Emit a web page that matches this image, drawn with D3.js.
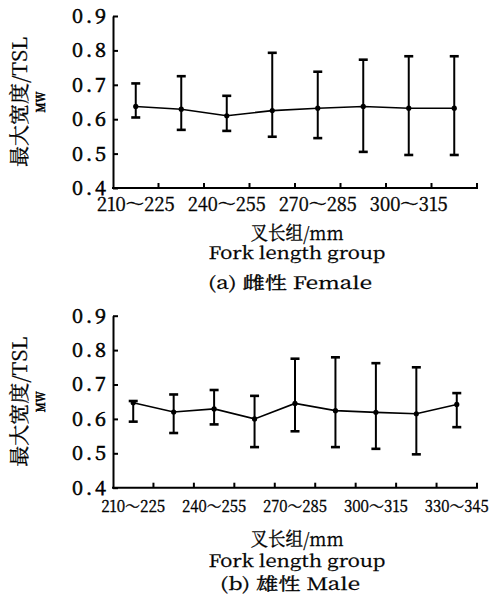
<!DOCTYPE html>
<html>
<head>
<meta charset="utf-8">
<script src="https://cdn.jsdelivr.net/npm/d3@7"></script>
<style>
  body { margin: 0; background: #fff; }
  svg { display: block; }
</style>
</head>
<body>
<script>
// ---- data ----
const groupsA = ["210～225", "225～240", "240～255", "255～270", "270～285", "285～300", "300～315", "315～330"];
const meanA  = [0.637, 0.629, 0.610, 0.625, 0.632, 0.637, 0.632, 0.632];
const upperA = [0.704, 0.725, 0.668, 0.793, 0.738, 0.773, 0.783, 0.783];
const lowerA = [0.605, 0.569, 0.566, 0.549, 0.545, 0.505, 0.496, 0.496];

const groupsB = ["210～225", "225～240", "240～255", "255～270", "270～285", "285～300", "300～315", "315～330", "330～345"];
const meanB  = [0.647, 0.620, 0.629, 0.600, 0.645, 0.624, 0.619, 0.615, 0.642];
const upperB = [0.652, 0.671, 0.684, 0.667, 0.775, 0.779, 0.762, 0.750, 0.675];
const lowerB = [0.592, 0.559, 0.584, 0.518, 0.564, 0.518, 0.513, 0.497, 0.576];

const yTicks = [0.4, 0.5, 0.6, 0.7, 0.8, 0.9];
const yTitle = "最大宽度/TSL";
const yTitle2 = "MW";
const xTitle = "叉长组/mm";
const xTitle2 = "Fork length group";
const captionA = "(a) 雌性 Female";
const captionB = "(b) 雄性 Male";
//////////////////////

const w = 499, h = 605;
const svg = d3.select("body").append("svg")
  .attr("width", w)
  .attr("height", h);

// Song style font, like the printed figure
const song = "'Noto Serif CJK SC', 'Liberation Serif', serif";

// small helper: a thin outline makes the text as dark as the print
function ink(sel, sw) {
  sel.attr("fill", "#000").attr("stroke", "#000").attr("stroke-width", sw);
}

function drawPanel(p) {
  const g = svg.append("g");

  const x = d3.scaleBand().domain(p.groups).range([113, 477]).padding(0);
  const y = d3.scaleLinear().domain([0.4, 0.9]).range([p.bottom, p.bottom - 172]);

  // y axis
  const yAxis = d3.axisLeft(y)
    .tickValues(yTicks)
    .tickFormat(d3.format(".1f"))
    .tickSizeInner(-5)
    .tickSizeOuter(0)
    .tickPadding(7);
  const ya = g.append("g").attr("transform", "translate(113,0)").call(yAxis);
  ya.select(".domain").attr("stroke-width", 2);
  ya.selectAll(".tick line").attr("stroke-width", 2);
  ya.selectAll(".tick text")
    .style("font-family", song)
    .style("font-size", "20px")
    .attr("textLength", 34)
    .attr("lengthAdjust", "spacing")
    .call(ink, 0.6);

  // x axis line
  g.append("line")
    .attr("x1", 112).attr("x2", 478)
    .attr("y1", y(0.4)).attr("y2", y(0.4))
    .attr("stroke", "#000").attr("stroke-width", 2);
  // ticks at band edges, pointing up
  g.selectAll(".xtick").data(p.groups).enter().append("line")
    .attr("x1", d => x(d) + x.bandwidth())
    .attr("x2", d => x(d) + x.bandwidth())
    .attr("y1", y(0.4))
    .attr("y2", y(0.4) - 5)
    .attr("stroke", "#000").attr("stroke-width", 2);
  // labels on every other group
  g.selectAll(".xlab").data(p.groups.filter((d, i) => i % 2 === 0)).enter().append("text")
    .attr("x", d => x(d) + x.bandwidth() / 2)
    .attr("y", y(0.4) + p.labOff)
    .attr("text-anchor", "middle")
    .style("font-family", song)
    .style("font-size", p.labSize + "px")
    .attr("textLength", p.labW)
    .attr("lengthAdjust", "spacingAndGlyphs")
    .call(ink, 0.4)
    .text(d => d);

  const cx = (d, i) => x(p.groups[i]) + x.bandwidth() / 2;

  // mean line
  const line = d3.line()
    .x((d, i) => cx(d, i))
    .y(d => y(d));
  g.append("path")
    .datum(p.mean)
    .attr("d", line)
    .attr("fill", "none")
    .attr("stroke", "#000")
    .attr("stroke-width", 1.6);

  // error bars
  const eb = g.selectAll(".eb").data(p.mean).enter().append("g");
  eb.append("line")
    .attr("x1", cx).attr("x2", cx)
    .attr("y1", (d, i) => y(p.upper[i]))
    .attr("y2", (d, i) => y(p.lower[i]))
    .attr("stroke", "#000").attr("stroke-width", 2);
  eb.append("line")
    .attr("x1", (d, i) => cx(d, i) - 4.5).attr("x2", (d, i) => cx(d, i) + 4.5)
    .attr("y1", (d, i) => y(p.upper[i]))
    .attr("y2", (d, i) => y(p.upper[i]))
    .attr("stroke", "#000").attr("stroke-width", 2.6);
  eb.append("line")
    .attr("x1", (d, i) => cx(d, i) - 4.5).attr("x2", (d, i) => cx(d, i) + 4.5)
    .attr("y1", (d, i) => y(p.lower[i]))
    .attr("y2", (d, i) => y(p.lower[i]))
    .attr("stroke", "#000").attr("stroke-width", 2.6);
  eb.append("circle")
    .attr("cx", cx)
    .attr("cy", d => y(d))
    .attr("r", 2.6)
    .attr("fill", "#000");

  // y title (rotated)
  const ym = y(0.65);
  g.append("text")
    .attr("transform", `translate(27,${ym}) rotate(-90)`)
    .attr("text-anchor", "middle")
    .style("font-family", song)
    .style("font-size", "20px")
    .attr("textLength", 130)
    .attr("lengthAdjust", "spacingAndGlyphs")
    .call(ink, 0.3)
    .text(yTitle);
  g.append("text")
    .attr("transform", `translate(45,${ym}) rotate(-90)`)
    .attr("text-anchor", "middle")
    .style("font-family", song)
    .style("font-weight", "bold")
    .style("font-size", "12px")
    .attr("textLength", 21)
    .attr("lengthAdjust", "spacingAndGlyphs")
    .call(ink, 0.5)
    .text(yTitle2);

  // x titles and caption
  g.append("text")
    .attr("x", 297).attr("y", y(0.4) + p.t1)
    .attr("text-anchor", "middle")
    .style("font-family", song)
    .style("font-size", "19px")
    .attr("textLength", 93)
    .attr("lengthAdjust", "spacingAndGlyphs")
    .call(ink, 0.3)
    .text(xTitle);
  g.append("text")
    .attr("x", 297).attr("y", y(0.4) + p.t2)
    .attr("text-anchor", "middle")
    .style("font-family", song)
    .style("font-size", "17px")
    .attr("textLength", 177)
    .attr("lengthAdjust", "spacingAndGlyphs")
    .call(ink, 0.3)
    .text(xTitle2);
  g.append("text")
    .attr("x", 290).attr("y", y(0.4) + p.t3)
    .attr("text-anchor", "middle")
    .style("font-family", song)
    .style("font-size", "17px")
    .attr("textLength", p.capW)
    .attr("lengthAdjust", "spacingAndGlyphs")
    .call(ink, 0.3)
    .text(p.caption);
}

drawPanel({ groups: groupsA, mean: meanA, upper: upperA, lower: lowerA,
  bottom: 188, labOff: 23, labSize: 19, labW: 78, t1: 52, t2: 71, t3: 101, capW: 164, caption: captionA });
drawPanel({ groups: groupsB, mean: meanB, upper: upperB, lower: lowerB,
  bottom: 487.7, labOff: 24, labSize: 16, labW: 64, t1: 58, t2: 79, t3: 102, capW: 140, caption: captionB });
</script>
</body>
</html>
